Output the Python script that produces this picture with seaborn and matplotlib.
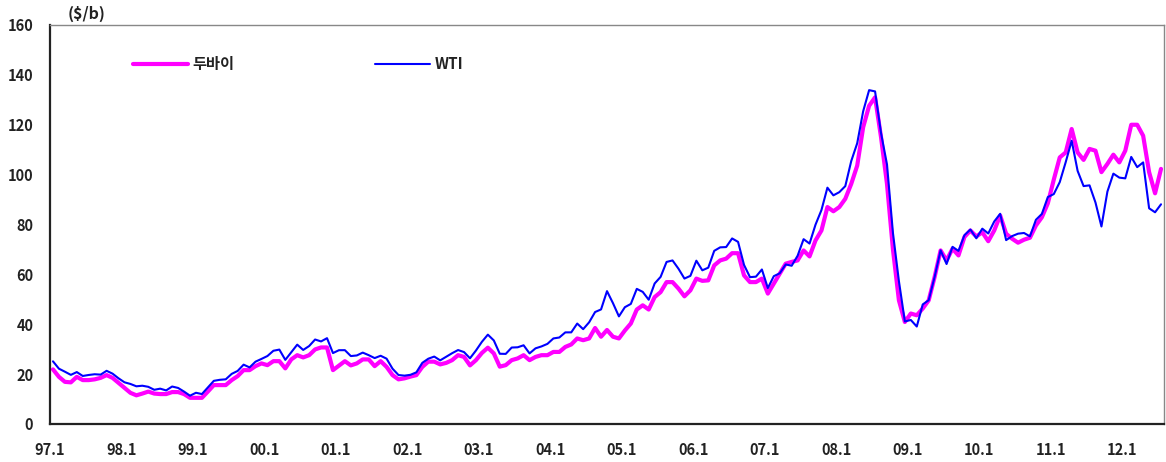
import pandas as pd
import seaborn as sns
import matplotlib.pyplot as plt

# monthly prices, 1997.1 - 2012.7 ($/b)
wti = [
    25.13, 22.18, 20.97, 19.70, 20.82, 19.26, 19.66, 19.95, 19.80, 21.33, 20.19, 18.33,  # 97
    16.72, 16.06, 15.12, 15.35, 14.91, 13.72, 14.17, 13.47, 15.03, 14.46, 13.00, 11.35,  # 98
    12.52, 12.01, 14.68, 17.31, 17.72, 17.92, 20.10, 21.28, 23.80, 22.69, 25.00, 26.10,  # 99
    27.26, 29.37, 29.84, 25.72, 28.79, 31.82, 29.70, 31.26, 33.88, 33.11, 34.42, 28.44,  # 00
    29.59, 29.61, 27.24, 27.49, 28.63, 27.60, 26.43, 27.37, 26.20, 22.17, 19.64, 19.39,  # 01
    19.72, 20.72, 24.53, 26.18, 27.04, 25.52, 26.97, 28.39, 29.66, 28.84, 26.35, 29.46,  # 02
    32.95, 35.83, 33.51, 28.17, 28.11, 30.66, 30.76, 31.57, 28.31, 30.34, 31.11, 32.13,  # 03
    34.31, 34.69, 36.74, 36.75, 40.28, 38.03, 40.78, 44.90, 45.94, 53.28, 48.47, 43.15,  # 04
    46.84, 48.15, 54.19, 52.98, 49.83, 56.35, 59.00, 64.99, 65.59, 62.26, 58.32, 59.41,  # 05
    65.49, 61.63, 62.69, 69.44, 70.84, 70.95, 74.41, 73.04, 63.80, 58.89, 59.08, 61.96,  # 06
    54.51, 59.28, 60.44, 63.98, 63.46, 67.49, 74.12, 72.36, 79.92, 85.80, 94.77, 91.69,  # 07
    92.97, 95.39, 105.45, 112.58, 125.40, 133.88, 133.37, 116.67, 104.11, 76.61, 57.31, 41.12,  # 08
    41.71, 39.09, 47.94, 49.65, 59.03, 69.64, 64.15, 71.05, 69.41, 75.72, 77.99, 74.47,  # 09
    78.33, 76.39, 81.20, 84.29, 73.74, 75.34, 76.32, 76.60, 75.24, 81.89, 84.25, 91.00,  # 10
    92.2, 97.0, 105.0, 113.6, 101.5, 95.4, 95.7, 88.8, 79.2, 93.2, 100.4, 98.8,  # 11
    98.5, 107.1, 103.0, 104.9, 86.5, 84.9, 88.1,  # 12
]
dubai = [
    21.9, 18.9, 16.9, 16.7, 18.9, 17.6, 17.6, 17.9, 18.5, 19.6, 18.5, 16.5,  # 97
    14.5, 12.5, 11.5, 12.2, 13.0, 12.2, 12.0, 12.0, 12.8, 12.8, 12.0, 10.5,  # 98
    10.5, 10.5, 13.0, 15.6, 15.6, 15.6, 17.6, 19.2, 21.6, 21.6, 23.2, 24.3,  # 99
    23.6, 25.2, 25.2, 22.3, 25.9, 27.6, 26.7, 27.6, 29.9, 30.7, 30.7, 21.6,  # 00
    23.4, 25.2, 23.5, 24.3, 25.9, 25.9, 23.2, 25.2, 22.9, 19.6, 17.9, 18.3,  # 01
    19.0, 19.6, 22.9, 25.0, 25.0, 23.9, 24.5, 25.6, 27.6, 26.9, 23.5, 25.6,  # 02
    28.5, 30.6, 28.3, 23.0, 23.6, 25.6, 26.3, 27.6, 25.6, 26.9, 27.6, 27.6,  # 03
    28.9, 28.9, 30.9, 31.9, 34.3, 33.6, 34.3, 38.5, 35.0, 37.7, 35.0, 34.3,  # 04
    37.5, 40.3, 45.9, 47.6, 45.9, 50.9, 52.9, 56.9, 56.9, 54.3, 51.2, 53.6,  # 05
    58.3, 57.4, 57.6, 63.6, 65.6, 66.3, 68.5, 68.5, 59.6, 56.9, 56.9, 58.3,  # 06
    52.3, 56.3, 60.3, 64.3, 65.0, 65.6, 69.6, 67.2, 73.6, 77.6, 87.0, 85.3,  # 07
    87.0, 90.3, 96.3, 103.6, 119.0, 127.6, 131.0, 115.0, 96.3, 70.0, 49.6, 40.9,  # 08
    44.3, 43.6, 46.3, 49.6, 59.0, 69.6, 65.6, 70.3, 67.6, 75.0, 77.6, 75.2,  # 09
    76.9, 73.3, 77.6, 83.6, 76.3, 74.3, 72.7, 73.9, 74.7, 79.6, 82.9, 88.5,  # 10
    98.0, 106.9, 108.9, 118.3, 108.9, 105.9, 110.3, 109.6, 101.0, 104.3, 108.0, 104.9,  # 11
    109.6, 120.0, 120.0, 115.6, 101.0, 92.5, 102.3,  # 12
]
years = [f"{y % 100:02d}.1" for y in range(1997, 2013)]

n = len(wti)
df = pd.DataFrame({"month": [i + 0.5 for i in range(n)], "dubai": dubai, "wti": wti})

sns.set_style("white")
plt.rcParams['font.family'] = ['Noto Sans CJK KR', 'DejaVu Sans']

fig = plt.figure(figsize=(11.66, 4.62), dpi=100)
ax = fig.add_axes([50 / 1166, 38 / 462, 1114 / 1166, 399 / 462])

sns.lineplot(data=df, x="month", y="dubai", ax=ax, color="#FF00FF", linewidth=3.0, label="두바이")
sns.lineplot(data=df, x="month", y="wti", ax=ax, color="#0000FF", linewidth=1.5, label="WTI")

ax.set_xlim(0, n)
ax.set_ylim(0, 160)
ax.set_yticks(range(0, 161, 20))
ax.set_xticks(range(0, n, 12))
ax.set_xticklabels(years)
ax.set_xticks(range(6, n, 12), minor=True)
ax.set_xlabel("")
ax.set_ylabel("")

ax.tick_params(axis="y", length=0, pad=12, labelsize=10.5)
ax.tick_params(axis="x", which="both", direction="out", length=5, width=1, color="#333333",
               pad=8, labelsize=10.5)
for lab in ax.get_xticklabels() + ax.get_yticklabels():
    lab.set_fontweight("bold")
    lab.set_color("#222222")

for side in ["top", "right"]:
    ax.spines[side].set_color("#888888")
    ax.spines[side].set_linewidth(1.0)
for side in ["left", "bottom"]:
    ax.spines[side].set_color("#222222")
    ax.spines[side].set_linewidth(1.6)

leg = ax.legend(loc="center left", bbox_to_anchor=(0.0745, 0.902), ncol=2, frameon=False,
                borderpad=0, borderaxespad=0, handlelength=3.6, handletextpad=0.3,
                columnspacing=9.2, prop={"size": 11, "weight": "bold"})
for t in leg.get_texts():
    t.set_color("#222222")

fig.text(68 / 1166, 1 - 14 / 462, "($/b)", fontsize=11.5, va="center", ha="left",
         fontweight="bold", color="#222222")

fig.savefig("out.png", dpi=100)
